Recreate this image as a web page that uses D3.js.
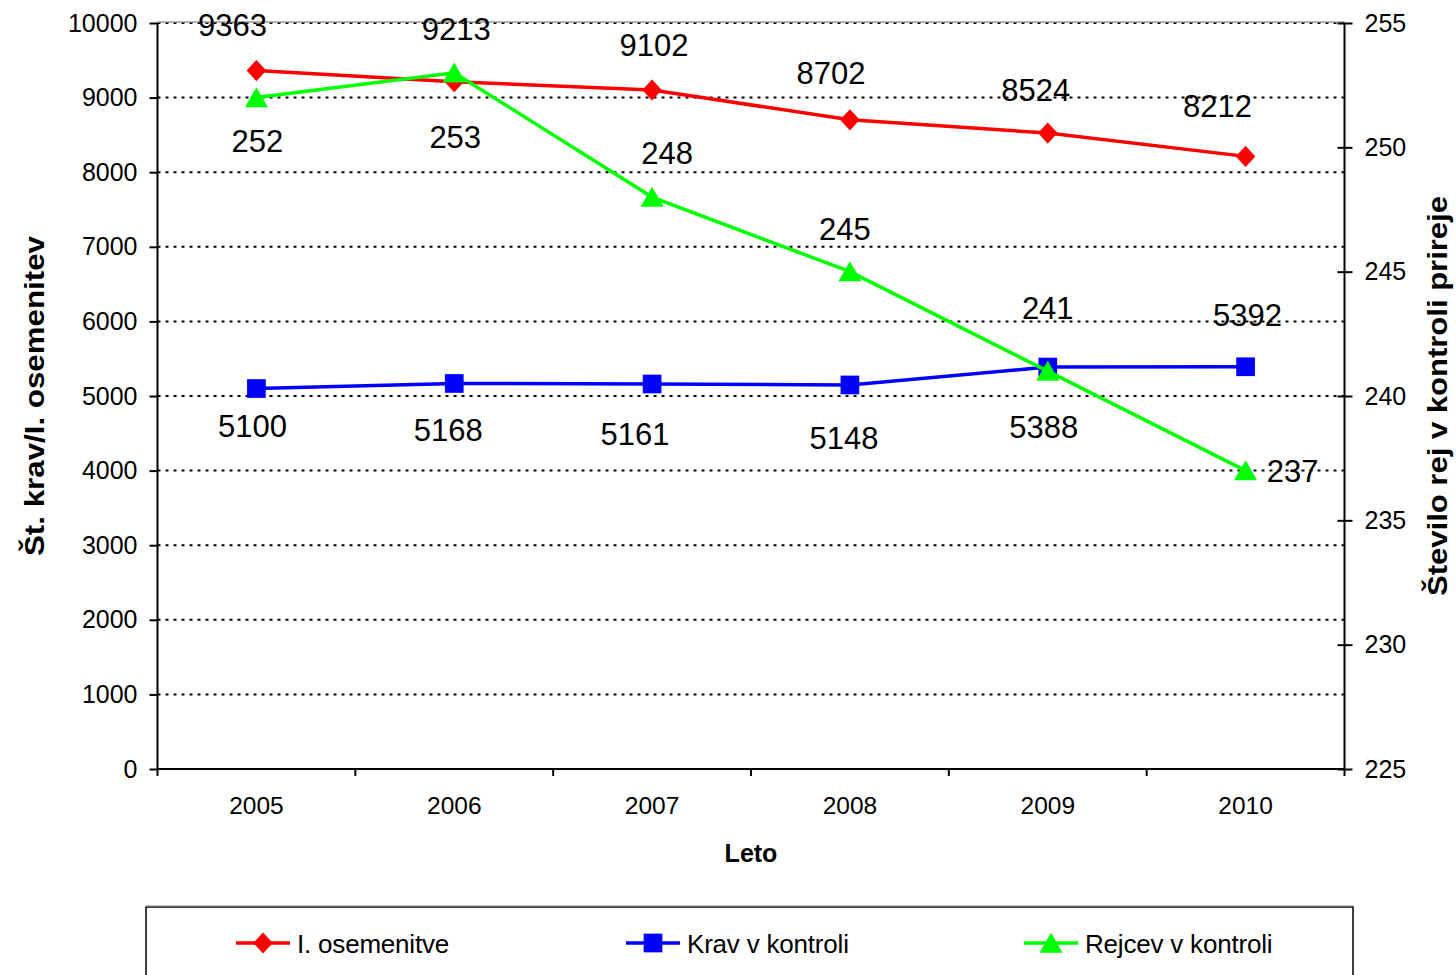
<!DOCTYPE html>
<html>
<head>
<meta charset="utf-8">
<script src="https://cdn.jsdelivr.net/npm/d3@7"></script>
<style>
  body { margin: 0; background: #fff; }
  svg { font-family: "Liberation Sans", Arial, sans-serif; }
</style>
</head>
<body>
<div id="chart"></div>
<script>
var years = ["2005", "2006", "2007", "2008", "2009", "2010"];
var osemenitve = [9363, 9213, 9102, 8702, 8524, 8212];
var kravVKontroli = [5100, 5168, 5161, 5148, 5388, 5392];
var rejcevVKontroli = [252, 253, 248, 245, 241, 237];
var leftTicks = [0, 1000, 2000, 3000, 4000, 5000, 6000, 7000, 8000, 9000, 10000];
var rightTicks = [225, 230, 235, 240, 245, 250, 255];

// odmiki oznak (dx, dy) od tock - kot v originalu
var redLabelOff = [[-24, -45], [2, -52], [2, -44], [-19, -46], [-12, -43], [-28, -50]];
var blueLabelOff = [[-4, 38], [-6, 47], [-17, 51], [-6, 54], [-4, 60], [2, -51]];
var greenLabelOff = [[1, 44], [1, 65], [15, -44], [-5, -42], [0, -63], [47, 1]];

var W = 1456, H = 975;
var pL = 157.5, pR = 1344.5, pT = 23, pB = 769;

var svg = d3.select("#chart").append("svg")
    .attr("width", W).attr("height", H);

var x = d3.scaleBand().domain(years).range([pL, pR]).padding(0);
var yL = d3.scaleLinear().domain([0, 10000]).range([pB, pT]);
var yR = d3.scaleLinear().domain([225, 255]).range([pB, pT]);
var cx = function (d) { return x(d) + x.bandwidth() / 2; };

// mreza
svg.append("g").selectAll("line")
    .data(leftTicks.filter(function (t) { return t > 0; }))
    .enter().append("line")
    .attr("x1", pL).attr("x2", pR)
    .attr("y1", function (d) { return yL(d); })
    .attr("y2", function (d) { return yL(d); })
    .attr("stroke", "#000").attr("stroke-width", 2)
    .attr("stroke-dasharray", "3,5");
svg.append("line")
    .attr("x1", pL).attr("x2", pR).attr("y1", pT - 1).attr("y2", pT - 1)
    .attr("stroke", "#999").attr("stroke-width", 1.5);

// leva os
var gL = svg.append("g").attr("transform", "translate(" + pL + ",0)")
    .call(d3.axisLeft(yL).tickValues(leftTicks).tickSize(8).tickPadding(12).tickFormat(d3.format("d")));
// desna os
var gR = svg.append("g").attr("transform", "translate(" + pR + ",0)")
    .call(d3.axisRight(yR).tickValues(rightTicks).tickSize(8).tickPadding(12));
gR.selectAll(".tick line").attr("x1", -7);
// spodnja os
var gX = svg.append("g").attr("transform", "translate(0," + pB + ")")
    .call(d3.axisBottom(x).tickSize(0).tickPadding(28));
svg.append("g").selectAll("line")
    .data(years.concat(["end"]))
    .enter().append("line")
    .attr("x1", function (d, i) { return pL + i * x.bandwidth(); })
    .attr("x2", function (d, i) { return pL + i * x.bandwidth(); })
    .attr("y1", pB).attr("y2", pB + 7)
    .attr("stroke", "#000").attr("stroke-width", 2);

[gL, gR, gX].forEach(function (g) {
    g.select(".domain").attr("stroke", "#000").attr("stroke-width", 2);
    g.selectAll(".tick line").attr("stroke", "#000").attr("stroke-width", 2);
    g.selectAll(".tick text").attr("fill", "#000").style("font-size", "25px")
        .style("font-family", "'Liberation Sans', Arial, sans-serif");
});
gX.selectAll(".tick text").style("font-size", "24.5px");
gR.select(".domain").attr("d", "M0," + pT + "V" + pB);
gL.select(".domain").attr("d", "M0," + pT + "V" + pB);
gX.select(".domain").attr("d", "M" + pL + ",0H" + pR);

// naslovi osi
svg.append("text")
    .attr("transform", "translate(44," + ((pT + pB) / 2) + ") rotate(-90)")
    .attr("text-anchor", "middle")
    .attr("textLength", 320).attr("lengthAdjust", "spacingAndGlyphs")
    .style("font-size", "28px").style("font-weight", "bold")
    .text("Št. krav/I. osemenitev");
svg.append("text")
    .attr("transform", "translate(1447," + ((pT + pB) / 2) + ") rotate(-90)")
    .attr("text-anchor", "middle")
    .attr("textLength", 400).attr("lengthAdjust", "spacingAndGlyphs")
    .style("font-size", "28px").style("font-weight", "bold")
    .text("Število rej v kontroli prireje");
svg.append("text")
    .attr("x", (pL + pR) / 2).attr("y", 862)
    .attr("text-anchor", "middle")
    .style("font-size", "25px").style("font-weight", "bold")
    .text("Leto");

var series = [
    { name: "I. osemenitve", values: osemenitve, y: yL, color: "#ff0000", marker: d3.symbolDiamond, size: 130, off: redLabelOff },
    { name: "Krav v kontroli", values: kravVKontroli, y: yL, color: "#0000ff", marker: d3.symbolSquare, size: 350, off: blueLabelOff },
    { name: "Rejcev v kontroli", values: rejcevVKontroli, y: yR, color: "#00ff00", marker: d3.symbolTriangle, size: 230, off: greenLabelOff }
];

function markerTransform(s) {
    var sy = s.marker === d3.symbolTriangle ? 3 : 0;
    var sc = s.marker === d3.symbolDiamond ? " scale(1.6,1)" : "";
    return { dy: sy, sc: sc };
}

series.forEach(function (s) {
    var line = d3.line()
        .x(function (d, i) { return cx(years[i]); })
        .y(function (d) { return s.y(d); });
    svg.append("path").datum(s.values)
        .attr("d", line).attr("fill", "none")
        .attr("stroke", s.color).attr("stroke-width", 3.5);
    var m = markerTransform(s);
    svg.append("g").selectAll("path")
        .data(s.values).enter().append("path")
        .attr("d", d3.symbol().type(s.marker).size(s.size))
        .attr("transform", function (d, i) {
            return "translate(" + cx(years[i]) + "," + (s.y(d) + m.dy) + ")" + m.sc;
        })
        .attr("fill", s.color);
});

// oznake podatkov
series.forEach(function (s) {
    svg.append("g").selectAll("text")
        .data(s.values).enter().append("text")
        .attr("x", function (d, i) { return cx(years[i]) + s.off[i][0]; })
        .attr("y", function (d, i) { return s.y(d) + s.off[i][1]; })
        .attr("text-anchor", "middle")
        .attr("dominant-baseline", "central")
        .style("font-size", "31px")
        .text(function (d) { return d; });
});

// legenda
svg.append("rect")
    .attr("x", 146).attr("y", 907).attr("width", 1207).attr("height", 90)
    .attr("fill", "#fff").attr("stroke", "#000").attr("stroke-width", 1.5);
svg.append("line").attr("x1", 146).attr("x2", 1353).attr("y1", 906).attr("y2", 906)
    .attr("stroke", "#888").attr("stroke-width", 1);
var legendX = [236, 626, 1024];
series.forEach(function (s, i) {
    var g = svg.append("g").attr("transform", "translate(" + legendX[i] + ",943)");
    g.append("line").attr("x1", 0).attr("x2", 54).attr("stroke", s.color).attr("stroke-width", 3.5);
    var m = markerTransform(s);
    g.append("path")
        .attr("d", d3.symbol().type(s.marker).size(s.size))
        .attr("transform", "translate(27," + m.dy + ")" + m.sc)
        .attr("fill", s.color);
    g.append("text").attr("x", 61).attr("y", 1)
        .attr("dominant-baseline", "central")
        .style("font-size", "26px").style("letter-spacing", "-0.2px")
        .text(s.name);
});
</script>
</body>
</html>
